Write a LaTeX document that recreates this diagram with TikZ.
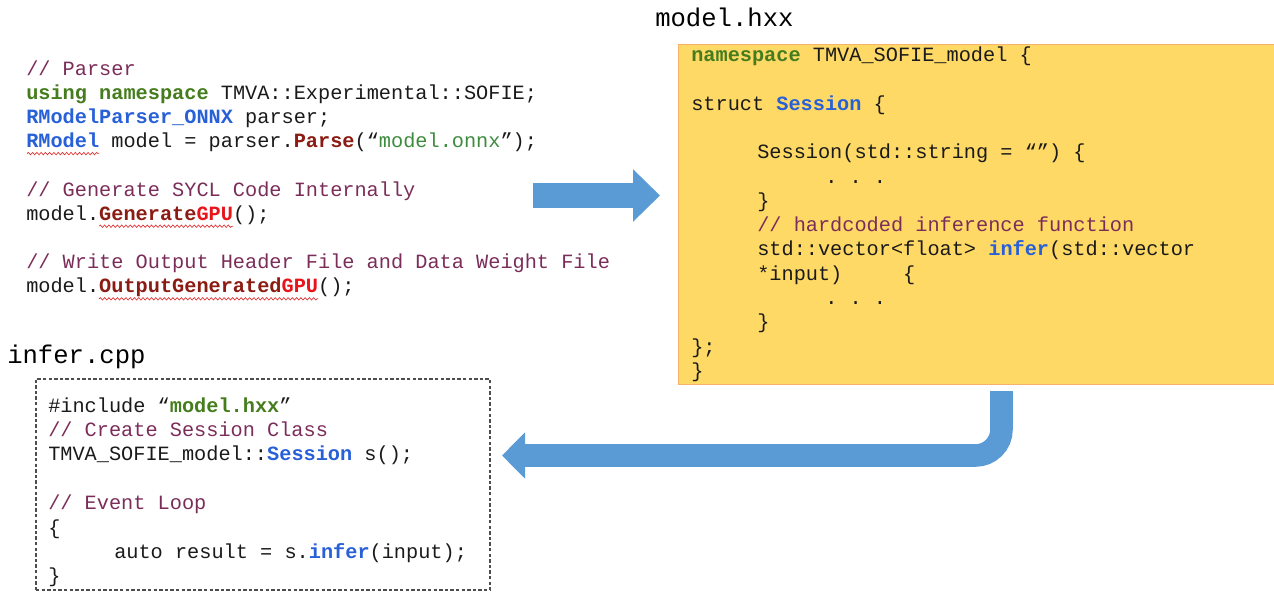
\documentclass[tikz,border=0pt]{standalone}
\usepackage{fontspec}
\setmonofont{Liberation Mono}
\usetikzlibrary{arrows.meta,decorations.pathmorphing}

\definecolor{ink}{HTML}{1A1A1A}
\definecolor{cmtcol}{HTML}{7B2D5A}
\definecolor{kwgreen}{HTML}{457D1E}
\definecolor{kwblue}{HTML}{2860D8}
\definecolor{kwdred}{HTML}{8B1C13}
\definecolor{kwred}{HTML}{E8141A}
\definecolor{strgreen}{HTML}{3D8B3D}
\definecolor{arrowblue}{HTML}{5B9BD5}
\definecolor{hdrfill}{HTML}{FFD966}
\definecolor{hdrline}{HTML}{F6B26B}
\definecolor{dashgray}{HTML}{4D4D4D}
\definecolor{squig}{HTML}{E03030}

% syntax highlighting helpers
\newcommand\hlcmt[1]{\textcolor{cmtcol}{#1}}
\newcommand\hlgrn[1]{\textcolor{kwgreen}{\bfseries #1}}
\newcommand\hlblu[1]{\textcolor{kwblue}{\bfseries #1}}
\newcommand\hldrd[1]{\textcolor{kwdred}{\bfseries #1}}
\newcommand\hlred[1]{\textcolor{kwred}{\bfseries #1}}
\newcommand\hlstr[1]{\textcolor{strgreen}{#1}}

\tikzset{
  code/.style={anchor=base west, inner sep=0pt, text=ink,
    font=\ttfamily\fontsize{15.2}{18}\selectfont},
  filetitle/.style={anchor=base west, inner sep=0pt, text=black,
    font=\ttfamily\fontsize{19.2}{23}\selectfont},
  hdrbox/.style={draw=hdrline, fill=hdrfill, line width=1.1pt,
    anchor=north west, inner sep=0pt},
  cppbox/.style={draw=dashgray, line width=1.4pt, dash pattern=on 2.6pt off 1.6pt,
    anchor=north west, inner sep=0pt},
  blockarrow/.style={draw=arrowblue, line cap=butt},
  squiggle/.style={draw=squig, line width=0.5pt,
    decorate, decoration={snake, amplitude=0.9pt, segment length=3.2pt}},
}

\begin{document}
\begin{tikzpicture}[x=0.75pt, y=-0.75pt]
\useasboundingbox (0,0) rectangle (1274,592);

% ---------- generator code ----------
\node[code] (p0) at (26,75.0)  {\hlcmt{// Parser}};
\node[code] (p1) at (26,99.2)  {\hlgrn{using namespace} TMVA::Experimental::SOFIE;};
\node[code] (p2) at (26,123.4) {\hlblu{RModelParser\_ONNX} parser;};
\node[code] (p3) at (26,147.6) {\hlblu{RModel} model = parser.\hldrd{Parse}(“\hlstr{model.onnx}”);};
\node[code] (p5) at (26,196.0) {\hlcmt{// Generate SYCL Code Internally}};
\node[code] (p6) at (26,220.2) {model.\hldrd{Generate}\hlred{GPU}();};
\node[code] (p8) at (26,268.6) {\hlcmt{// Write Output Header File and Data Weight File}};
\node[code] (p9) at (26,292.8) {model.\hldrd{OutputGenerated}\hlred{GPU}();};

% spell-check underlines
\draw[squiggle] (27,153.6) -- (99,153.6);
\draw[squiggle] (99,226.2) -- (233,226.2);
\draw[squiggle] (99,298.8) -- (318,298.8);

% ---------- generated header ----------
\node[filetitle] (hdrtitle) at (655,27) {model.hxx};
\node[hdrbox, minimum width=448.5pt, minimum height=255pt] (hdr) at (678,44) {};

\node[code] (m0)  at (691,61.5)  {\hlgrn{namespace} TMVA\_SOFIE\_model \{};
\node[code] (m2)  at (691,110.1) {struct \hlblu{Session} \{};
\node[code] (m4)  at (757,158.7) {Session(std::string = “”) \{};
\node[code] (m5)  at (825,183.0) {. . .};
\node[code] (m6)  at (757,207.3) {\}};
\node[code] (m7)  at (757,231.6) {\hlcmt{// hardcoded inference function}};
\node[code] (m8)  at (757,255.9) {std::vector<float> \hlblu{infer}(std::vector};
\node[code] (m9)  at (757,280.2) {*input)\ \ \ \ \ \{};
\node[code] (m10) at (825,304.5) {. . .};
\node[code] (m11) at (757,328.8) {\}};
\node[code] (m12) at (691,353.1) {\};};
\node[code] (m13) at (691,377.4) {\}};

% ---------- inference program ----------
\node[filetitle] (cpptitle) at (7,363) {infer.cpp};
\node[cppbox, minimum width=340.5pt, minimum height=158.5pt] (cpp) at (35,378) {};

\node[code] (i0) at (48,412.0)  {\#include “\hlgrn{model.hxx}”};
\node[code] (i1) at (48,436.4)  {\hlcmt{// Create Session Class}};
\node[code] (i2) at (48,460.8)  {TMVA\_SOFIE\_model::\hlblu{Session} s();};
\node[code] (i4) at (48,509.6)  {\hlcmt{// Event Loop}};
\node[code] (i5) at (48,534.0)  {\{};
\node[code] (i6) at (114,558.4) {auto result = s.\hlblu{infer}(input);};
\node[code] (i7) at (48,582.8)  {\}};

% ---------- flow arrows ----------
\coordinate (genout) at (533,195.5);
\coordinate (hdrin)  at (660,195.5);
\draw[blockarrow, line width=18.75pt,
      -{Triangle[width=38.25pt, length=20.25pt]}] (genout) -- (hdrin);

\coordinate (hdrout) at (1001.5,391);
\coordinate (bend)   at (1001.5,455.5);
\coordinate (cppin)  at (502,455.5);
\draw[blockarrow, line width=16.9pt, rounded corners=19.5pt,
      -{Triangle[width=33.75pt, length=17.25pt]}] (hdrout) -- (bend) -- (cppin);
\end{tikzpicture}
\end{document}
